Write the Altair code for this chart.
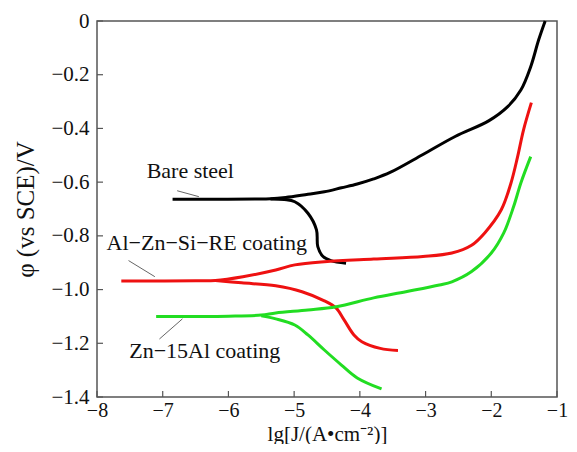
import altair as alt
import pandas as pd

# ---- data ----
bare_upper_x = [-6.85, -6.2, -5.6, -5.36, -5.13, -4.79, -4.54, -4.28, -4.04, -3.79, -3.54, -3.04, -2.55, -2.04, -1.75, -1.55, -1.40, -1.28, -1.18]
bare_upper_y = [-0.664, -0.664, -0.663, -0.662, -0.657, -0.645, -0.636, -0.621, -0.607, -0.588, -0.564, -0.497, -0.430, -0.372, -0.319, -0.257, -0.170, -0.071, 0.0]
bare_lower_x = [-5.36, -5.15, -4.99, -4.79, -4.66, -4.64, -4.56, -4.44, -4.21]
bare_lower_y = [-0.663, -0.665, -0.673, -0.716, -0.778, -0.840, -0.877, -0.892, -0.902]

alzn_upper_x = [-7.63, -7.0, -6.5, -6.2, -5.78, -5.28, -4.99, -4.54, -3.79, -3.04, -2.60, -2.30, -2.10, -1.85, -1.70, -1.60, -1.51, -1.39]
alzn_upper_y = [-0.968, -0.968, -0.967, -0.966, -0.952, -0.927, -0.908, -0.896, -0.886, -0.877, -0.864, -0.835, -0.789, -0.704, -0.603, -0.506, -0.406, -0.304]
alzn_lower_x = [-6.2, -5.8, -5.28, -4.88, -4.54, -4.36, -4.24, -4.09, -3.97, -3.69, -3.42]
alzn_lower_y = [-0.966, -0.975, -0.986, -1.008, -1.042, -1.069, -1.113, -1.169, -1.194, -1.219, -1.227]

zn_upper_x = [-7.10, -6.5, -6.0, -5.5, -5.28, -4.79, -4.36, -3.79, -3.30, -2.79, -2.60, -2.30, -2.00, -1.81, -1.66, -1.55, -1.40]
zn_upper_y = [-1.100, -1.100, -1.099, -1.095, -1.087, -1.076, -1.064, -1.031, -1.008, -0.983, -0.971, -0.933, -0.864, -0.789, -0.691, -0.603, -0.505]
zn_lower_x = [-5.5, -5.28, -4.99, -4.79, -4.54, -4.28, -4.04, -3.67]
zn_lower_y = [-1.098, -1.109, -1.132, -1.169, -1.225, -1.281, -1.329, -1.370]

label_text = ["Bare steel", "Al\u2212Zn\u2212Si\u2212RE coating", "Zn\u221215Al coating"]
label_x = [-6.58, -6.33, -6.36]
label_y = [-0.560, -0.828, -1.228]
leader_x1 = [-6.78, -7.52, -7.05]
leader_y1 = [-0.632, -0.892, -1.184]
leader_x2 = [-6.45, -7.12, -6.70]
leader_y2 = [-0.654, -0.952, -1.109]

x_ticks = [-8, -7, -6, -5, -4, -3, -2, -1]
y_ticks = [-1.4, -1.2, -1.0, -0.8, -0.6, -0.4, -0.2, 0.0]

series_names = ["Bare steel", "Al-Zn-Si-RE coating", "Zn-15Al coating"]
colors = ["#000000", "#ee1111", "#22dd22"]

rows = []
branches = [
    ("bare_u", series_names[0], bare_upper_x, bare_upper_y),
    ("bare_l", series_names[0], bare_lower_x, bare_lower_y),
    ("alzn_u", series_names[1], alzn_upper_x, alzn_upper_y),
    ("alzn_l", series_names[1], alzn_lower_x, alzn_lower_y),
    ("zn_u", series_names[2], zn_upper_x, zn_upper_y),
    ("zn_l", series_names[2], zn_lower_x, zn_lower_y),
]
for bid, s, xs, ys in branches:
    for i, (a, b) in enumerate(zip(xs, ys)):
        rows.append({"branch": bid, "series": s, "i": i, "x": a, "y": b})
df = pd.DataFrame(rows)

FONT = "Liberation Serif"
W, H = 460, 376

xscale = alt.Scale(domain=[-8, -1], nice=False)
yscale = alt.Scale(domain=[-1.4, 0], nice=False)

lines = alt.Chart(df).mark_line(strokeWidth=3, interpolate="catmull-rom").encode(
    x=alt.X("x:Q", scale=xscale,
            axis=alt.Axis(values=x_ticks, grid=False, ticks=False, domain=False,
                          labelFlush=False, labelOverlap=False,
                          labelExpr="replace(format(datum.value, 'd'), '-', '\u2212')",
                          labelFont=FONT, labelFontSize=20, labelColor="#111", labelPadding=3,
                          title="lg[J/(A\u2022cm\u207b\u00b2)]", titleFont=FONT, titleFontSize=21,
                          titleFontWeight="normal", titleColor="#111", titlePadding=3)),
    y=alt.Y("y:Q", scale=yscale,
            axis=alt.Axis(values=y_ticks, grid=False, ticks=False, domain=False,
                          labelFlush=False, labelOverlap=False,
                          labelFont=FONT, labelFontSize=21, labelColor="#111", labelPadding=8,
                          labelExpr="datum.value == 0 ? '0' : replace(format(datum.value, '.1f'), '-', '\u2212')",
                          title="\u03c6 (vs SCE)/V", titleFont=FONT, titleFontSize=25,
                          titleFontWeight="normal", titleColor="#111", titlePadding=12)),
    color=alt.Color("series:N", scale=alt.Scale(domain=series_names, range=colors), legend=None),
    detail="branch:N",
    order="i:Q",
)

xt = alt.Chart(pd.DataFrame({"t": x_ticks})).mark_rule(color="#555", strokeWidth=1.2).encode(
    x=alt.X("t:Q", scale=xscale), y=alt.value(H), y2=alt.value(H - 6))
yt = alt.Chart(pd.DataFrame({"t": y_ticks})).mark_rule(color="#555", strokeWidth=1.2).encode(
    y=alt.Y("t:Q", scale=yscale), x=alt.value(0), x2=alt.value(6))

ann = pd.DataFrame({"text": label_text, "x": label_x, "y": label_y,
                    "x1": leader_x1, "y1": leader_y1, "x2": leader_x2, "y2": leader_y2})
leaders = alt.Chart(ann).mark_rule(color="#666", strokeWidth=1).encode(
    x=alt.X("x1:Q", scale=xscale), y=alt.Y("y1:Q", scale=yscale), x2="x2:Q", y2="y2:Q")
texts = alt.Chart(ann).mark_text(font=FONT, fontSize=22, color="#111", align="center",
                                 baseline="middle").encode(
    x=alt.X("x:Q", scale=xscale), y=alt.Y("y:Q", scale=yscale), text="text:N")

chart = alt.layer(lines, xt, yt, leaders, texts).properties(
    width=W, height=H,
    background="white",
    autosize=alt.AutoSizeParams(type="none"),
    padding={"left": 89, "top": 13, "right": 12, "bottom": 47},
).configure_view(stroke="#555", strokeWidth=1.5)

chart.save("out.html", embed_options={"renderer": "svg", "actions": False})
